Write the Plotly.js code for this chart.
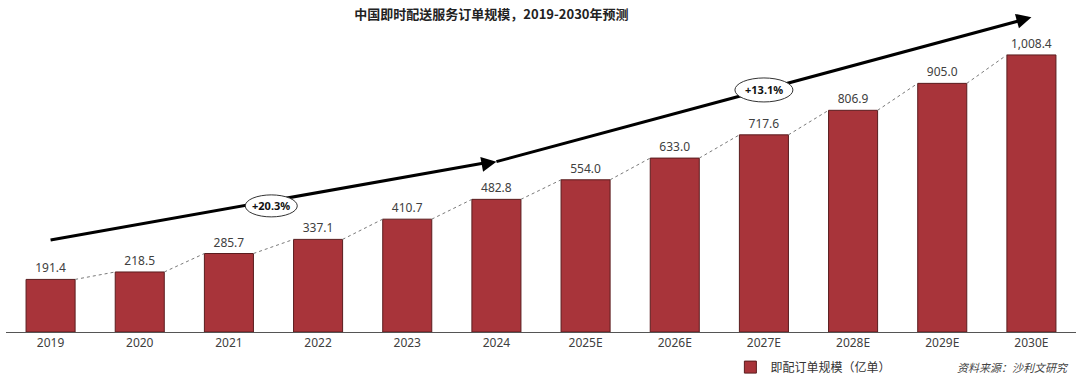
<!DOCTYPE html>
<html>
<head>
<meta charset="utf-8">
<script src="https://cdn.plot.ly/plotly-3.0.1.min.js"></script>
<style>html,body{margin:0;padding:0;background:#fff;}#chart{width:1080px;height:386px;}</style>
</head>
<body>
<div id="chart"></div>
<script>
const categories = ["2019","2020","2021","2022","2023","2024","2025E","2026E","2027E","2028E","2029E","2030E"];
const orders = [191.4, 218.5, 285.7, 337.1, 410.7, 482.8, 554.0, 633.0, 717.6, 806.9, 905.0, 1008.4];
const seriesName = "即配订单规模（亿单）";
const cagrLabels = ["+20.3%", "+13.1%"];

const xIdx = categories.map((c, i) => i);
const halfBar = 0.275;

// dotted connector: right-top corner of bar i to left-top corner of bar i+1
const connX = [], connY = [];
for (let i = 0; i < orders.length - 1; i++) {
  connX.push(xIdx[i] + halfBar, xIdx[i + 1] - halfBar, null);
  connY.push(orders[i], orders[i + 1], null);
}

const font = "'Noto Sans CJK SC', 'Noto Sans', sans-serif";

const traces = [
  {
    type: "bar",
    x: xIdx,
    y: orders,
    name: seriesName,
    width: halfBar * 2,
    marker: { color: "#A8343A", line: { color: "#5a1c1e", width: 1 } },
    texttemplate: "%{y:,.1f}",
    textposition: "outside",
    textfont: { family: "'Noto Sans', sans-serif", size: 12, color: "#404040" },
    cliponaxis: false,
    hoverinfo: "skip"
  },
  {
    type: "scatter",
    mode: "lines",
    x: connX,
    y: connY,
    line: { color: "#7a7a7a", width: 1, dash: "dot" },
    showlegend: false,
    hoverinfo: "skip"
  }
];

const a1 = { x0: 0, y0: 335, x1: 5, y1: 620 };
const a2 = { x0: 5, y0: 620, x1: 11, y1: 1146 };

const layout = {
  width: 1080,
  height: 386,
  margin: { l: 6, r: 4, t: 10, b: 54 },
  paper_bgcolor: "#fff",
  plot_bgcolor: "#fff",
  title: {
    text: "<b>中国即时配送服务订单规模，2019-2030年预测</b>",
    x: 0.455, xanchor: "center", y: 0.962, yanchor: "middle",
    font: { family: font, size: 13, color: "#222" }
  },
  xaxis: {
    range: [-0.5, 11.5],
    tickvals: xIdx,
    ticktext: categories,
    showline: true, linecolor: "#555", linewidth: 1,
    showgrid: false, zeroline: false, ticks: "",
    tickfont: { family: "'Noto Sans', sans-serif", size: 12, color: "#404040" },
    fixedrange: true
  },
  yaxis: {
    range: [0, 1172],
    visible: false,
    showgrid: false, zeroline: false,
    fixedrange: true
  },
  showlegend: true,
  legend: {
    orientation: "h",
    x: 0.677, xanchor: "left",
    y: -0.109, yanchor: "middle",
    font: { family: font, size: 12, color: "#333" },
    bgcolor: "rgba(0,0,0,0)"
  },
  shapes: [
    { type: "line", xref: "x", yref: "y", x0: a1.x0, y0: a1.y0, x1: a1.x1 - 0.12, y1: a1.y1 - 4, line: { color: "#000", width: 3 } },
    { type: "line", xref: "x", yref: "y", x0: a2.x0, y0: a2.y0, x1: a2.x1 - 0.12, y1: a2.y1 - 12, line: { color: "#000", width: 3 } },
    { type: "circle", xref: "x", yref: "y", xsizemode: "pixel", ysizemode: "pixel",
      xanchor: 2.475, yanchor: 459, x0: -26, x1: 26, y0: -11, y1: 11,
      fillcolor: "#fff", line: { color: "#333", width: 1 } },
    { type: "circle", xref: "x", yref: "y", xsizemode: "pixel", ysizemode: "pixel",
      xanchor: 8.0, yanchor: 881, x0: -29, x1: 29, y0: -12, y1: 12,
      fillcolor: "#fff", line: { color: "#333", width: 1 } }
  ],
  annotations: [
    { x: a1.x1, y: a1.y1, xref: "x", yref: "y", ax: -16, ay: 3,
      text: "", showarrow: true, arrowhead: 2, arrowsize: 1, arrowwidth: 3, arrowcolor: "#000" },
    { x: a2.x1, y: a2.y1, xref: "x", yref: "y", ax: -16, ay: 4.4,
      text: "", showarrow: true, arrowhead: 2, arrowsize: 1, arrowwidth: 3, arrowcolor: "#000" },
    { x: 2.475, y: 459, xref: "x", yref: "y", text: "<b>" + cagrLabels[0] + "</b>", showarrow: false,
      font: { family: "'Noto Sans', sans-serif", size: 11, color: "#111" } },
    { x: 8.0, y: 881, xref: "x", yref: "y", text: "<b>" + cagrLabels[1] + "</b>", showarrow: false,
      font: { family: "'Noto Sans', sans-serif", size: 11, color: "#111" } },
    { x: 0.995, y: -0.109, xref: "paper", yref: "paper", xanchor: "right", yanchor: "middle",
      text: "<i>资料来源：沙利文研究</i>", showarrow: false,
      font: { family: font, size: 11, color: "#444" } }
  ]
};

Plotly.newPlot("chart", traces, layout, { displayModeBar: false, staticPlot: true });
</script>
</body>
</html>
